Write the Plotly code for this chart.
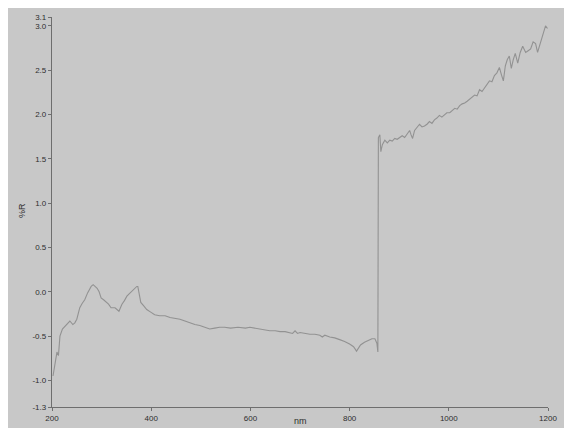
import plotly.graph_objects as go

wavelength_nm = [202, 206, 210, 213, 216, 221, 226, 231, 236, 242, 246, 250, 256, 261, 266, 272, 276, 279, 283, 287,
                 291, 295, 299, 304, 309, 314, 319, 323, 327, 331, 335, 338, 341, 346, 351, 356, 361, 366, 371, 373,
                 376, 379, 385, 391, 399, 407, 417, 428, 438, 448, 458, 468, 478, 488, 498, 508, 518, 528, 538, 548,
                 560, 575, 590, 599, 610, 620, 630, 639, 650, 660, 670, 679, 685, 690, 695, 700, 710, 720, 730, 740,
                 745, 750, 760, 770, 780, 790, 800, 808, 814, 818, 822, 830, 838, 845, 851, 855, 857,
                 858, 861, 863, 866, 871, 876, 881, 886, 891, 896, 901, 906, 911, 916, 921, 924, 927, 931, 936, 941,
                 946, 951, 956, 961, 966, 971, 976, 981, 986, 991, 996, 1002, 1007, 1012, 1017, 1022, 1027, 1032,
                 1037, 1042, 1047, 1052, 1057, 1062, 1067, 1072, 1077, 1082, 1087, 1092, 1097, 1102, 1106, 1110,
                 1114, 1118, 1122, 1126, 1130, 1134, 1139, 1144, 1149, 1155, 1160, 1165, 1170, 1175, 1179, 1183,
                 1189, 1195, 1199]

reflectance_pct = [-0.95, -0.80, -0.68, -0.72, -0.50, -0.42, -0.39, -0.35, -0.33, -0.37, -0.35, -0.31, -0.18, -0.13,
                   -0.09, -0.01, 0.03, 0.06, 0.08, 0.06, 0.04, 0.00, -0.07, -0.09, -0.11, -0.14, -0.18, -0.18, -0.18,
                   -0.20, -0.22, -0.18, -0.14, -0.10, -0.05, -0.02, 0.01, 0.03, 0.06, 0.06, -0.04, -0.12, -0.16,
                   -0.20, -0.23, -0.26, -0.27, -0.27, -0.29, -0.30, -0.31, -0.33, -0.35, -0.37, -0.38, -0.40, -0.42,
                   -0.41, -0.40, -0.40, -0.41, -0.40, -0.41, -0.40, -0.41, -0.42, -0.43, -0.44, -0.44, -0.45, -0.45,
                   -0.46, -0.47, -0.44, -0.47, -0.46, -0.47, -0.48, -0.48, -0.49, -0.51, -0.49, -0.51, -0.52, -0.54,
                   -0.56, -0.59, -0.62, -0.67, -0.63, -0.60, -0.57, -0.55, -0.53, -0.53, -0.58, -0.68,
                   1.74, 1.77, 1.58, 1.66, 1.71, 1.68, 1.71, 1.70, 1.73, 1.72, 1.74, 1.76, 1.74, 1.78, 1.82, 1.77,
                   1.73, 1.82, 1.86, 1.89, 1.86, 1.87, 1.89, 1.92, 1.90, 1.94, 1.96, 1.99, 1.97, 2.00, 2.02, 2.02,
                   2.05, 2.07, 2.06, 2.10, 2.12, 2.13, 2.15, 2.17, 2.19, 2.22, 2.21, 2.28, 2.26, 2.30, 2.34, 2.38,
                   2.37, 2.44, 2.47, 2.53, 2.45, 2.38, 2.55, 2.62, 2.66, 2.52, 2.62, 2.69, 2.58, 2.70, 2.77, 2.70,
                   2.72, 2.74, 2.82, 2.80, 2.70, 2.78, 2.88, 3.00, 2.97]

x_ticks = [200, 400, 600, 800, 1000, 1200]
y_ticks = [3.1, 3.0, 2.5, 2.0, 1.5, 1.0, 0.5, 0.0, -0.5, -1.0, -1.3]
y_tick_labels = ["3.1", "3.0", "2.5", "2.0", "1.5", "1.0", "0.5", "0.0", "-0.5", "-1.0", "-1.3"]

BG = "#c8c8c8"
AX = "#6e6e6e"
TXT = "#2e2e2e"
FONT = "Liberation Sans, Arial, sans-serif"

fig = go.Figure()
fig.add_trace(go.Scatter(x=wavelength_nm, y=reflectance_pct, mode="lines",
                         line=dict(color="#929292", width=1.1), showlegend=False, hoverinfo="skip"))

# page body margin (8px) gives the white strip at top/left
OFF = 8
W, H = 572 - OFF, 428 - OFF
L, R, T, B = 52 - OFF, 24, 13 - OFF, 19
pw, ph = W - L - R, H - T - B

def px(xp):
    return (xp - OFF - L) / pw

def py(yp):
    return (H - B - (yp - OFF)) / ph

fig.update_layout(
    width=W, height=H,
    margin=dict(l=L, r=R, t=T, b=B, pad=0),
    paper_bgcolor=BG, plot_bgcolor=BG,
    font=dict(family=FONT, size=8, color=TXT),
    xaxis=dict(range=[200, 1200], tickvals=x_ticks, ticktext=[str(v) for v in x_ticks],
               showgrid=False, zeroline=False, showline=True, linecolor=AX, linewidth=1.3,
               ticks="outside", ticklen=3, tickcolor=AX, tickfont=dict(size=8, color=TXT)),
    yaxis=dict(range=[-1.3, 3.1], tickvals=y_ticks, ticktext=y_tick_labels,
               showgrid=False, zeroline=False, showline=True, linecolor=AX, linewidth=1.3,
               ticks="outside", ticklen=3, tickcolor=AX, tickfont=dict(size=8, color=TXT)),
    annotations=[
        dict(text="%R", xref="paper", yref="paper", x=px(22), y=py(210), showarrow=False,
             textangle=-90, font=dict(size=9, color=TXT, family=FONT), xanchor="center", yanchor="middle"),
        dict(text="nm", xref="paper", yref="paper", x=px(300), y=py(423), showarrow=False,
             font=dict(size=9, color=TXT, family=FONT), xanchor="center", yanchor="middle"),
    ],
)

fig.write_html("out.html")
